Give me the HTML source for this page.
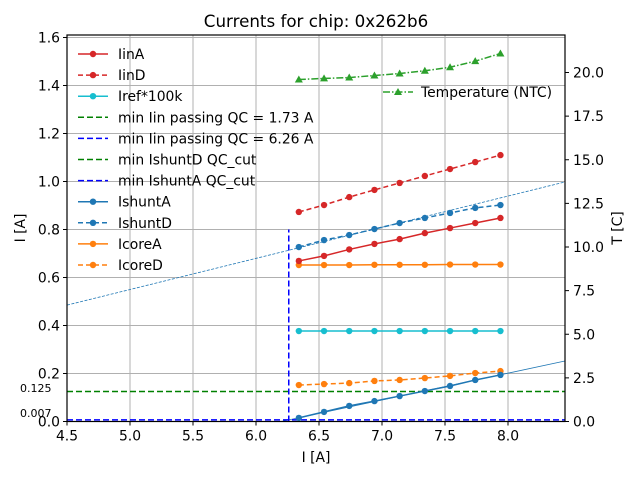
<!DOCTYPE html>
<html><head><meta charset="utf-8"><style>
body{margin:0;background:#fff}
svg{font-family:"DejaVu Sans","Liberation Sans",sans-serif}
</style></head><body>
<svg id="chart" width="640" height="480" xmlns="http://www.w3.org/2000/svg">
<rect width="640" height="480" fill="#fff"/>
<text x="316" y="27" font-size="16.7" text-anchor="middle">Currents for chip: 0x262b6</text>
<g id="grid"></g><g id="marks"></g><g id="axes"></g><g id="legend"></g>
<text x="316" y="462" font-size="13.9" text-anchor="middle">I [A]</text>
<text transform="translate(25,228) rotate(-90)" font-size="13.9" text-anchor="middle">I [A]</text>
<text transform="translate(622,228) rotate(-90)" font-size="13.9" text-anchor="middle">T [C]</text>
<text x="20" y="392" font-size="11">0.125</text>
<text x="20" y="417" font-size="11">0.007</text>
</svg>
<script>
const xs=[6.34,6.54,6.74,6.94,7.14,7.34,7.54,7.74,7.94];
const iinA=[0.669,0.690,0.717,0.740,0.760,0.785,0.806,0.827,0.848];
const iinD=[0.873,0.902,0.935,0.965,0.994,1.023,1.052,1.081,1.110];
const iref=[0.377,0.377,0.377,0.377,0.377,0.377,0.377,0.377,0.377];
const ishuntA=[0.015,0.040,0.065,0.085,0.106,0.127,0.148,0.173,0.194];
const ishuntD=[0.727,0.756,0.777,0.802,0.827,0.848,0.869,0.890,0.902];
const icoreA=[0.652,0.652,0.652,0.653,0.653,0.653,0.654,0.654,0.654];
const icoreD=[0.152,0.156,0.160,0.169,0.173,0.181,0.190,0.202,0.210];
const temp=[19.6,19.66,19.71,19.83,19.94,20.1,20.3,20.65,21.09];
const xTicks=[4.5,5.0,5.5,6.0,6.5,7.0,7.5,8.0];
const yTicks=[0.0,0.2,0.4,0.6,0.8,1.0,1.2,1.4,1.6];
const y2Ticks=[0.0,2.5,5.0,7.5,10.0,12.5,15.0,17.5,20.0];
const cutD=0.125, cutA=0.007, vline=6.26;
const fitDx=[4.5,8.452], fitDy=[0.485,0.998];
const fitAx=[6.2,8.452], fitAy=[0.0,0.252];

const L=67,R=565,T=35,B=421.5;
const X=v=>L+(v-4.5)*126;
const Y=v=>B-v*240;
const Y2=v=>B-v*17.45;
const NS="http://www.w3.org/2000/svg";
function mk(p,t,a){const e=document.createElementNS(NS,t);for(const k in a)e.setAttribute(k,a[k]);document.getElementById(p).appendChild(e);return e;}

xTicks.forEach(t=>{const l=mk('grid','line',{x1:X(t),x2:X(t),y1:T,y2:B,stroke:'#b0b0b0','stroke-width':1});

const k=mk('axes','line',{x1:X(t),x2:X(t),y1:B,y2:B+4,stroke:'#000'});
const s=mk('axes','text',{x:X(t),y:B+19,'font-size':13.9,'text-anchor':'middle'});s.textContent=t.toFixed(1);});
yTicks.forEach(t=>{const l=mk('grid','line',{x1:L,x2:R,y1:Y(t),y2:Y(t),stroke:'#b0b0b0','stroke-width':1});

const k=mk('axes','line',{x1:L-4,x2:L,y1:Y(t),y2:Y(t),stroke:'#000'});
const s=mk('axes','text',{x:L-7,y:Y(t)+5,'font-size':13.9,'text-anchor':'end'});s.textContent=t.toFixed(1);});
y2Ticks.forEach(t=>{const k=mk('axes','line',{x1:R,x2:R+4,y1:Y2(t),y2:Y2(t),stroke:'#000'});
const s=mk('axes','text',{x:R+8,y:Y2(t)+5,'font-size':13.9});s.textContent=t.toFixed(1);});
const fr=mk('axes','rect',{x:L,y:T,width:R-L,height:B-T,fill:'none',stroke:'#000','stroke-width':1.2});


let f=mk('marks','line',{x1:X(fitDx[0]),y1:Y(fitDy[0]),x2:X(fitDx[1]),y2:Y(fitDy[1]),stroke:'#1f77b4','stroke-width':0.8,'stroke-dasharray':'3,1.5'});

f=mk('marks','line',{x1:X(fitAx[0]),y1:Y(fitAy[0]),x2:X(fitAx[1]),y2:Y(fitAy[1]),stroke:'#1f77b4','stroke-width':0.8});

f=mk('marks','line',{x1:L,x2:R,y1:Y(cutD),y2:Y(cutD),stroke:'green','stroke-width':1.5,'stroke-dasharray':'6,3'});

f=mk('marks','line',{x1:L,x2:R,y1:Y(cutA),y2:Y(cutA),stroke:'blue','stroke-width':1.5,'stroke-dasharray':'6,3'});

f=mk('marks','line',{x1:X(vline),x2:X(vline),y1:B,y2:Y(0.8),stroke:'blue','stroke-width':1.5,'stroke-dasharray':'6,3'});


function series(vals,yf,color,dash,name,marker){
 const pts=xs.map((x,i)=>X(x)+','+yf(vals[i])).join(' ');
 const p=mk('marks','polyline',{points:pts,fill:'none',stroke:color,'stroke-width':1.5,'stroke-dasharray':dash||'none'});
 
 xs.forEach((x,i)=>{let m;const cx=X(x),cy=yf(vals[i]);
  if(marker==='tri')m=mk('marks','polygon',{points:`${cx},${cy-4} ${cx-4},${cy+3} ${cx+4},${cy+3}`,fill:color});
  else m=mk('marks','circle',{cx:cx,cy:cy,r:3.2,fill:color});
  });
}
series(icoreD,Y,'#ff7f0e','5,3','icored');
series(icoreA,Y,'#ff7f0e','','icorea');
series(ishuntA,Y,'#1f77b4','','ishunta');
series(ishuntD,Y,'#1f77b4','5,3','ishuntd');
series(iref,Y,'#17becf','','iref');
series(iinA,Y,'#d62728','','iina');
series(iinD,Y,'#d62728','5,3','iind');
series(temp,Y2,'#2ca02c','7,2,1.5,2','temperature','tri');

const leg=[['IinA','#d62728','',1],['IinD','#d62728','5,3',1],['Iref*100k','#17becf','',1],
['min Iin passing QC = 1.73 A','green','6,3',0],['min Iin passing QC = 6.26 A','blue','6,3',0],
['min IshuntD QC_cut','green','6,3',0],['min IshuntA QC_cut','blue','6,3',0],
['IshuntA','#1f77b4','',1],['IshuntD','#1f77b4','5,3',1],['IcoreA','#ff7f0e','',1],['IcoreD','#ff7f0e','5,3',1]];
leg.forEach((e,i)=>{const y=54+i*21.1;
 const l=mk('legend','line',{x1:78,x2:108,y1:y,y2:y,stroke:e[1],'stroke-width':1.5,'stroke-dasharray':e[2]||'none'});
 
 if(e[3]){const c=mk('legend','circle',{cx:93,cy:y,r:3.2,fill:e[1]});}
 const t=mk('legend','text',{x:118,y:y+5,'font-size':13.9});t.textContent=e[0];
 });
let tl=mk('legend','line',{x1:383,x2:413,y1:92,y2:92,stroke:'#2ca02c','stroke-width':1.5,'stroke-dasharray':'7,2,1.5,2'});

tl=mk('legend','polygon',{points:'398,88 394,95 402,95',fill:'#2ca02c'});

tl=mk('legend','text',{x:421,y:97,'font-size':13.9});tl.textContent='Temperature (NTC)';

</script>
</body></html>
